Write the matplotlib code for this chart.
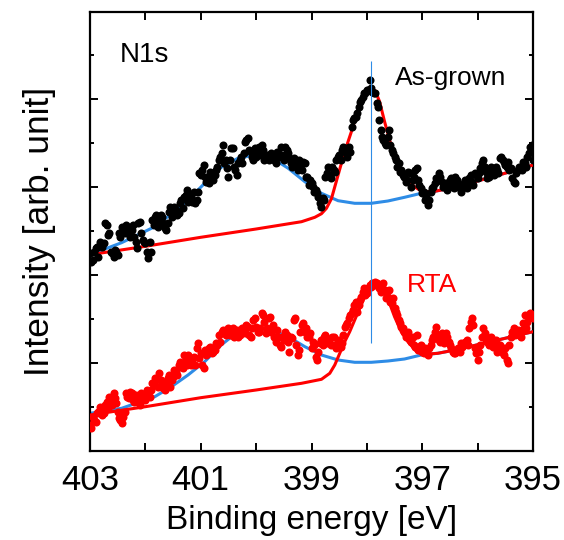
import numpy as np
import matplotlib.pyplot as plt
from matplotlib.ticker import FixedLocator, MultipleLocator

plt.rcParams['font.family'] = ['Liberation Sans', 'DejaVu Sans']

# scan grid: 403 -> 395 eV, 0.025 eV step, stored as two interleaved halves
energy_a = np.linspace(403.0, 395.0, 161)
energy_b = np.linspace(402.975, 395.025, 160)

# measured N1s counts (arb. units), as-grown sample
asgrown_a = [
    197.7, 191.0, 202.7, 194.3, 206.0, 207.7, 226.0, 217.7, 197.7, 201.0,
    196.0, 214.3, 221.0, 226.0, 217.7, 221.0, 214.3, 202.7, 229.3, 211.0,
    207.7, 192.7, 199.3, 226.0, 236.0, 231.0, 234.3, 222.7, 227.7, 244.3,
    236.0, 241.0, 237.7, 251.0, 254.3, 261.0, 256.0, 249.3, 247.7, 259.3,
    276.0, 286.0, 269.3, 267.7, 277.7, 276.0, 284.3, 294.3, 306.0, 291.0,
    274.3, 302.7, 284.3, 276.0, 291.0, 287.7, 309.3, 312.7, 299.3, 291.0,
    294.3, 304.3, 306.0, 291.0, 296.0, 292.7, 294.3, 287.7, 297.7, 304.3,
    291.0, 301.0, 292.7, 284.3, 289.3, 281.0, 284.3, 289.3, 274.3, 266.0,
    267.7, 259.3, 257.7, 247.7, 252.7, 274.3, 284.3, 272.7, 281.0, 291.0,
    296.0, 301.0, 302.7, 294.3, 299.3, 331.0, 334.3, 344.3, 351.0, 357.7,
    361.0, 371.0, 359.3, 357.7, 344.3, 321.0, 311.0, 306.0, 321.0, 301.0,
    294.3, 284.3, 279.3, 276.0, 269.3, 279.3, 264.3, 274.3, 282.7, 266.0,
    257.7, 251.0, 246.0, 259.3, 264.3, 272.7, 277.7, 269.3, 266.0, 261.0,
    271.0, 267.7, 274.3, 264.3, 259.3, 267.7, 262.7, 272.7, 269.3, 277.7,
    272.7, 282.7, 291.0, 279.3, 274.3, 284.3, 276.0, 281.0, 292.7, 291.0,
    286.0, 289.3, 282.7, 269.3, 277.7, 284.3, 281.0, 287.7, 294.3, 304.3,
    291.0,
]
asgrown_b = [
    189.3, 199.3, 204.3, 209.3, 204.3, 227.7, 216.0, 199.3, 194.3, 199.3,
    217.7, 224.3, 217.7, 222.7, 214.3, 226.0, 209.3, 227.7, 217.7, 209.3,
    199.3, 209.3, 231.0, 234.3, 224.3, 236.0, 227.7, 221.0, 239.3, 234.3,
    244.3, 236.0, 247.7, 242.7, 256.0, 249.3, 254.3, 259.3, 251.0, 277.7,
    281.0, 274.3, 272.7, 279.3, 271.0, 281.0, 291.0, 297.7, 287.7, 282.7,
    291.0, 302.7, 281.0, 287.7, 294.3, 297.7, 311.0, 301.0, 294.3, 302.7,
    299.3, 296.0, 301.0, 294.3, 291.0, 297.7, 291.0, 299.3, 294.3, 296.0,
    304.3, 297.7, 287.7, 292.7, 286.0, 291.0, 281.0, 287.7, 274.3, 271.0,
    264.3, 261.0, 254.3, 244.3, 251.0, 277.7, 276.0, 284.3, 279.3, 294.3,
    291.0, 304.3, 297.7, 304.3, 324.3, 332.7, 337.7, 349.3, 354.3, 357.7,
    361.0, 362.7, 357.7, 347.7, 331.0, 314.3, 307.7, 314.3, 306.0, 297.7,
    291.0, 287.7, 281.0, 274.3, 271.0, 277.7, 271.0, 281.0, 271.0, 262.7,
    259.3, 254.3, 251.0, 262.7, 267.7, 271.0, 274.3, 264.3, 267.7, 264.3,
    272.7, 262.7, 271.0, 266.0, 262.7, 271.0, 267.7, 276.0, 266.0, 276.0,
    277.7, 287.7, 284.3, 272.7, 279.3, 281.0, 284.3, 277.7, 294.3, 289.3,
    284.3, 281.0, 272.7, 267.7, 281.0, 284.3, 289.3, 284.3, 297.7, 306.0,
]

# measured N1s counts (arb. units), after RTA
rta_a = [
    26.0, 34.3, 29.3, 39.3, 42.7, 37.7, 49.3, 54.3, 46.0, 52.7,
    39.3, 31.0, 34.3, 57.7, 52.7, 57.7, 49.3, 52.7, 46.0, 54.3,
    51.0, 57.7, 61.0, 66.0, 71.0, 77.7, 69.3, 61.0, 72.7, 64.3,
    74.3, 79.3, 86.0, 84.3, 96.0, 86.0, 92.7, 91.0, 86.0, 107.7,
    97.7, 82.7, 96.0, 102.7, 97.7, 101.0, 106.0, 109.3, 121.0, 116.0,
    122.7, 119.3, 114.3, 121.0, 116.0, 122.7, 117.7, 124.3, 114.3, 131.0,
    124.3, 119.3, 137.7, 129.3, 122.7, 134.3, 126.0, 109.3, 114.3, 104.3,
    111.0, 116.0, 99.3, 112.7, 132.7, 96.0, 119.3, 127.7, 122.7, 114.3,
    102.7, 106.0, 91.0, 107.7, 106.0, 116.0, 111.0, 106.0, 114.3, 102.7,
    111.0, 107.7, 124.3, 127.7, 136.0, 141.0, 149.3, 146.0, 154.3, 162.7,
    157.7, 166.0, 167.7, 169.3, 166.0, 159.3, 167.7, 152.7, 161.0, 147.7,
    142.7, 136.0, 127.7, 122.7, 114.3, 119.3, 109.3, 106.0, 116.0, 104.3,
    99.3, 102.7, 96.0, 106.0, 114.3, 124.3, 111.0, 117.7, 107.7, 114.3,
    106.0, 99.3, 97.7, 102.7, 107.7, 106.0, 111.0, 122.7, 132.7, 102.7,
    91.0, 106.0, 122.7, 111.0, 106.0, 114.3, 107.7, 99.3, 106.0, 97.7,
    102.7, 87.7, 114.3, 122.7, 117.7, 116.0, 121.0, 136.0, 129.3, 137.7,
    132.7,
]
rta_b = [
    22.7, 31.0, 37.7, 44.3, 36.0, 46.0, 42.7, 52.7, 57.7, 47.7,
    32.7, 27.7, 39.3, 54.3, 59.3, 51.0, 56.0, 49.3, 57.7, 52.7,
    61.0, 54.3, 67.7, 72.7, 64.3, 71.0, 62.7, 67.7, 76.0, 71.0,
    81.0, 76.0, 89.3, 82.7, 91.0, 96.0, 86.0, 94.3, 102.7, 92.7,
    86.0, 101.0, 97.7, 104.3, 99.3, 107.7, 116.0, 119.3, 119.3, 117.7,
    116.0, 122.7, 117.7, 114.3, 121.0, 119.3, 126.0, 116.0, 122.7, 132.7,
    119.3, 122.7, 136.0, 117.7, 132.7, 119.3, 114.3, 121.0, 106.0, 114.3,
    119.3, 109.3, 114.3, 131.0, 106.0, 101.0, 126.0, 119.3, 114.3, 117.7,
    109.3, 94.3, 99.3, 111.0, 114.3, 107.7, 109.3, 114.3, 106.0, 109.3,
    104.3, 116.0, 126.0, 132.7, 137.7, 146.0, 139.3, 151.0, 159.3, 156.0,
    162.7, 164.3, 166.0, 167.7, 162.7, 162.7, 161.0, 154.3, 149.3, 152.7,
    139.3, 131.0, 124.3, 119.3, 117.7, 111.0, 114.3, 104.3, 101.0, 106.0,
    97.7, 101.0, 102.7, 111.0, 119.3, 116.0, 109.3, 112.7, 117.7, 109.3,
    102.7, 97.7, 101.0, 99.3, 104.3, 109.3, 106.0, 129.3, 126.0, 97.7,
    99.3, 114.3, 117.7, 109.3, 112.7, 104.3, 111.0, 104.3, 101.0, 96.0,
    91.0, 106.0, 119.3, 116.0, 121.0, 114.3, 127.7, 122.7, 132.7, 136.0,
]

# fitted envelopes: N-Ga component + background (red), broad component + background (blue)
fit_e_red1 = [403.00, 402.00, 401.00, 400.00, 399.18, 398.94, 398.82, 398.73,
              398.64, 398.55, 398.46, 398.37, 398.28, 398.19, 398.10, 398.01,
              397.92, 397.85, 397.77, 397.68, 397.59, 397.50, 397.38, 397.26,
              397.14, 397.02, 396.84, 396.59, 396.11, 395.51, 395.00]
fit_y_red1 = [196.3, 204.7, 213.7, 222.0, 229.3, 233.7, 237.3, 242.7,
              252.3, 270.0, 287.7, 304.3, 319.3, 336.0, 351.0, 359.3,
              361.7, 360.3, 349.3, 329.3, 311.0, 294.3, 281.0, 271.0,
              264.3, 260.0, 259.0, 261.7, 268.3, 277.7, 286.0]

fit_e_blue1 = [403.00, 402.43, 401.83, 401.53, 401.23, 400.93, 400.63, 400.33,
               400.03, 399.72, 399.42, 399.12, 398.82, 398.52, 398.22, 397.92,
               397.62, 397.32, 397.02, 396.84, 396.59, 396.11, 395.51, 395.00]
fit_y_blue1 = [196.3, 208.3, 224.3, 237.0, 251.0, 267.7, 283.7, 292.7,
               296.0, 293.3, 282.7, 269.3, 257.7, 250.3, 247.7, 247.7,
               250.0, 253.7, 257.7, 259.0, 261.7, 268.3, 277.7, 286.0]

fit_e_red2 = [403.00, 402.00, 401.00, 400.00, 399.18, 398.82, 398.67, 398.58,
              398.49, 398.40, 398.31, 398.22, 398.13, 398.04, 397.95, 397.86,
              397.77, 397.68, 397.59, 397.50, 397.38, 397.26, 397.11, 396.96,
              396.72, 396.41, 395.81, 395.00]
fit_y_red2 = [36.0, 44.3, 53.3, 61.0, 67.7, 71.7, 77.7, 86.0,
              97.7, 109.3, 119.3, 131.0, 142.7, 154.3, 162.7, 166.0,
              164.3, 157.7, 147.7, 134.3, 119.3, 109.3, 100.0, 96.7,
              97.7, 101.0, 108.7, 119.3]

fit_e_blue2 = [403.00, 402.43, 401.83, 401.53, 401.23, 400.93, 400.63, 400.33,
               400.03, 399.72, 399.42, 399.12, 398.82, 398.52, 398.22, 397.92,
               397.62, 397.32, 397.02, 396.72, 396.41, 395.81, 395.00]
fit_y_blue2 = [37.7, 42.7, 54.3, 64.3, 76.0, 89.3, 106.0, 119.3,
               123.3, 121.0, 114.3, 104.3, 96.0, 91.0, 88.7, 88.7,
               90.0, 92.0, 96.0, 97.7, 101.0, 108.7, 119.3]

peak_pos = 397.92
peak_span = (107.7, 390.0)

energy = np.concatenate([energy_a, energy_b])
asgrown = np.concatenate([asgrown_a, asgrown_b])
rta = np.concatenate([rta_a, rta_b])

fig = plt.figure(figsize=(5.64, 5.40), dpi=100)
ax = fig.add_axes([90 / 564, 89 / 540, 443 / 564, 439 / 540])

blue = '#2e8ce6'
red = '#ff0000'

ax.plot(fit_e_blue1, fit_y_blue1, color=blue, lw=2.2, zorder=2)
ax.plot(fit_e_red1, fit_y_red1, color=red, lw=2.2, zorder=3)
ax.plot(fit_e_blue2, fit_y_blue2, color=blue, lw=2.2, zorder=2)
ax.plot(fit_e_red2, fit_y_red2, color=red, lw=2.2, zorder=3)

ax.plot(energy, asgrown, 'o', color='black', ms=5.8, mew=0, zorder=4)
ax.plot(energy, rta, 'o', color=red, ms=5.8, mew=0, zorder=4)

ax.vlines(peak_pos, *peak_span, color=blue, lw=0.8, zorder=5)

ax.text(402.46, 396, 'N1s', fontsize=20, ha='left', va='center')
ax.text(397.50, 372.7, 'As-grown', fontsize=19, ha='left', va='center')
ax.text(397.27, 166, 'RTA', fontsize=19, color=red, ha='left', va='center')

ax.set_xlim(403, 395)
ax.set_ylim(0, 439)
ax.xaxis.set_major_locator(FixedLocator([403, 401, 399, 397, 395]))
ax.xaxis.set_minor_locator(FixedLocator([402, 400, 398, 396]))
ax.yaxis.set_major_locator(MultipleLocator(88))
ax.yaxis.set_minor_locator(MultipleLocator(44))
ax.tick_params(which='both', direction='in', top=True, right=True, width=1.4)
ax.tick_params(which='major', length=6, labelsize=25, pad=9)
ax.tick_params(axis='x', which='minor', length=6)
ax.tick_params(axis='y', which='minor', length=3)
ax.tick_params(axis='y', which='major', labelleft=False)
for s in ax.spines.values():
    s.set_linewidth(1.6)

ax.set_xlabel('Binding energy [eV]', fontsize=24, labelpad=6)
ax.set_ylabel('Intensity [arb. unit]', fontsize=25.5, labelpad=21)

fig.savefig('out.png', dpi=100)
